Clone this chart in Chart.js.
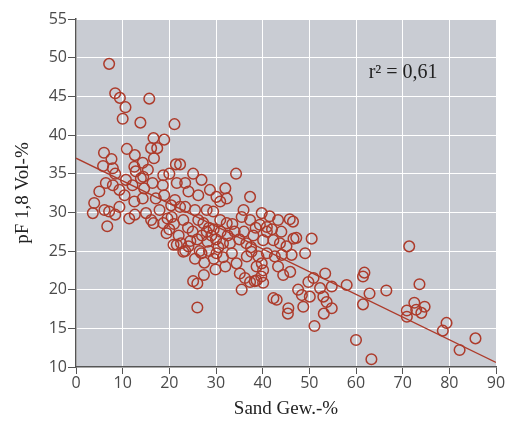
<!DOCTYPE html>
<html><head><meta charset="utf-8">
<script src="https://cdn.jsdelivr.net/npm/chart.js@4/dist/chart.umd.min.js"></script>
<style>html,body{margin:0;padding:0;background:#fff}#wrap{width:506px;height:427px}</style>
</head><body><div id="wrap"><canvas id="c" width="506" height="427"></canvas></div>
<script>
const sandX = [7.1,8.4,9.4,10.6,10.0,15.7,13.8,21.1,16.6,18.9,16.1,17.4,10.9,6.0,
7.6,12.6,16.7,14.3,21.4,22.3,34.3,5.8,7.9,12.5,15.4,8.4,12.8,14.4,25.1,18.7,20.0,
6.4,5.0,7.9,9.3,10.7,12.1,13.9,14.6,16.4,18.6,18.9,17.1,14.3,12.5,10.4,3.9,3.6,6.1,7.1,9.3,11.4,15.0,16.1,17.9,19.6,20.4,
6.7,8.4,12.6,16.6,
21.6,23.4,24.1,26.9,28.7,26.2,30.1,32.0,32.3,30.9,21.2,22.3,23.4,25.5,28.0,29.4,35.9,37.3,20.5,23.0,26.2,27.3,30.9,32.3,35.5,37.3,39.8,39.4,40.9,
19.4,20.9,23.4,18.7,23.0,24.1,21.6,26.9,30.1,33.4,29.9,27.4,25.1,26.0,26.0,35.1,36.2,35.5,37.3,38.7,39.8,38.7,34.4,36.6,37.6,39.1,
28,28.5,29,29.5,30,28.2,27,26,25,24,22,22.5,24.5,31,31.5,32.5,33,34,33.5,35,36,36.5,38,38.5,37.5,28.5,29.5,31.5,27.5,32,30.5,26.5,25.5,20,21,
40.9,40.1,42.3,43.7,40.9,42.6,44.1,46.2,49.1,46.6,50.5,40.1,44.4,45.9,49.8,50.9,53.4,52.3,54.8,58.0,47.6,48.4,50.1,53.0,42.3,43.0,45.5,48.7,53.7,54.8,
45.8,46.5,43.3,47.2,45.1,43.3,39.7,40.1,38.3,45.4,53.1,51.1,41.5,42,44,
61.8,61.5,62.9,61.5,66.5,60.0,63.3,71.4,73.6,72.5,70.9,70.9,72.9,74.7,74.0,79.4,78.6,82.2,85.6];
const pfY = [49.2,45.4,44.8,43.6,42.1,44.7,41.6,41.4,39.6,39.4,38.3,38.3,38.2,37.7,
36.9,37.4,37.0,36.4,36.2,36.2,35.0,36.0,35.7,35.9,35.5,35.0,35.3,34.6,35.0,34.8,35.0,
33.8,32.7,33.5,32.9,34.2,33.5,34.4,33.1,33.8,33.5,32.2,31.8,31.8,31.4,32.2,31.2,29.9,30.3,30.1,30.7,29.2,29.9,29.0,30.3,29.2,30.9,
28.2,29.7,29.7,28.6,
33.8,33.8,32.7,34.2,32.9,32.2,32.0,33.1,31.8,31.4,31.6,30.7,30.7,30.3,30.3,30.1,30.3,32.0,29.4,29.0,29.0,28.6,29.0,28.6,29.4,29.0,29.9,28.4,28.1,
27.3,25.8,25.0,28.6,24.9,25.6,25.8,24.7,24.7,24.7,22.6,21.9,21.1,20.8,17.7,22.1,21.5,20.0,21.0,21.2,23.4,23.0,23.4,24.3,24.9,24.3,
27.5,28,27,27.8,26.5,26.2,27,26.5,27.5,28,27,26,26.3,27.5,26,27,26,27.5,28.5,26.5,27.5,26,27,28,25.5,25,24,24.2,23.5,23,25.5,25,24,27.8,28.5,
27.5,26.4,26.4,26.0,24.7,24.3,24.5,24.5,24.7,26.6,26.6,22.5,21.9,22.3,21.0,21.5,22.1,20.2,20.4,20.6,20.0,19.3,19.1,19.1,18.9,18.7,17.6,17.8,18.4,17.6,
29.1,28.8,29.0,26.7,25.6,23.0,21.7,20.9,21.1,16.9,16.9,15.3,29.5,27.8,27.5,
22.2,21.7,19.5,18.1,19.9,13.5,11.0,25.6,20.7,18.3,17.3,16.5,17.4,17.8,17.0,15.7,14.7,12.2,13.7];
const regX = [0, 90];
const regY = [37.0, 10.6];
const xTicks = [0,10,20,30,40,50,60,70,80,90];
const yTicks = [10,15,20,25,30,35,40,45,50,55];
const annotation = 'r\u00B2 = 0,61';

const points = sandX.map((x,i)=>({x:x,y:pfY[i]}));
const line = regX.map((x,i)=>({x:x,y:regY[i]}));
const red = '#ad3b2b';

const bgPlugin = {
  id:'bg',
  beforeDraw(chart){
    const {ctx, chartArea:a} = chart;
    ctx.save(); ctx.fillStyle='#c9ccd3'; ctx.fillRect(a.left,a.top,a.right-a.left,a.bottom-a.top); ctx.restore();
  },
  afterDraw(chart){
    const ctx = chart.ctx, sx = chart.scales.x, sy = chart.scales.y;
    ctx.save();
    ctx.fillStyle='#222';
    ctx.font='20px "Liberation Serif", serif';
    ctx.textAlign='center'; ctx.textBaseline='middle';
    ctx.fillText(annotation, sx.getPixelForValue(70.1), sy.getPixelForValue(48.0));
    ctx.restore();
  }
};

new Chart(document.getElementById('c'), {
  type:'scatter',
  data:{datasets:[
    {data:line, type:'line', borderColor:red, borderWidth:1.3, pointRadius:0, fill:false, order:2},
    {data:points, showLine:false, pointRadius:5.3, pointBorderWidth:1.5, pointBackgroundColor:'rgba(0,0,0,0)', pointBorderColor:red, order:1}
  ]},
  options:{
    responsive:false, animation:false,
    layout:{padding:{top:19,right:10,left:0,bottom:0}},
    plugins:{legend:{display:false}, tooltip:{enabled:false}},
    scales:{
      x:{type:'linear', min:0, max:90,
        afterBuildTicks(s){s.ticks = xTicks.map(v=>({value:v}));},
        afterFit(s){s.height=60;},
        grid:{color:'#ffffff', lineWidth:1, tickColor:'#555', tickLength:7},
        border:{color:'#555', width:1.5},
        ticks:{color:'#4a4a4a', font:{family:'"Open Sans", sans-serif', size:16}, padding:0, maxRotation:0},
        title:{display:true, text:'Sand Gew.-%', color:'#222', font:{family:'"Liberation Serif", serif', size:19}, padding:{top:0, bottom:7}}
      },
      y:{type:'linear', min:10, max:55,
        afterBuildTicks(s){s.ticks = yTicks.map(v=>({value:v}));},
        afterFit(s){s.width=76;},
        grid:{color:'#ffffff', lineWidth:1, tickColor:'#555', tickLength:8},
        border:{color:'#555', width:1.5},
        ticks:{color:'#4a4a4a', font:{family:'"Open Sans", sans-serif', size:16}, padding:1},
        title:{display:true, text:'pF 1,8 Vol-%', color:'#222', font:{family:'"Liberation Serif", serif', size:19}, padding:{top:12, bottom:2}}
      }
    }
  },
  plugins:[bgPlugin]
});
</script></body></html>
